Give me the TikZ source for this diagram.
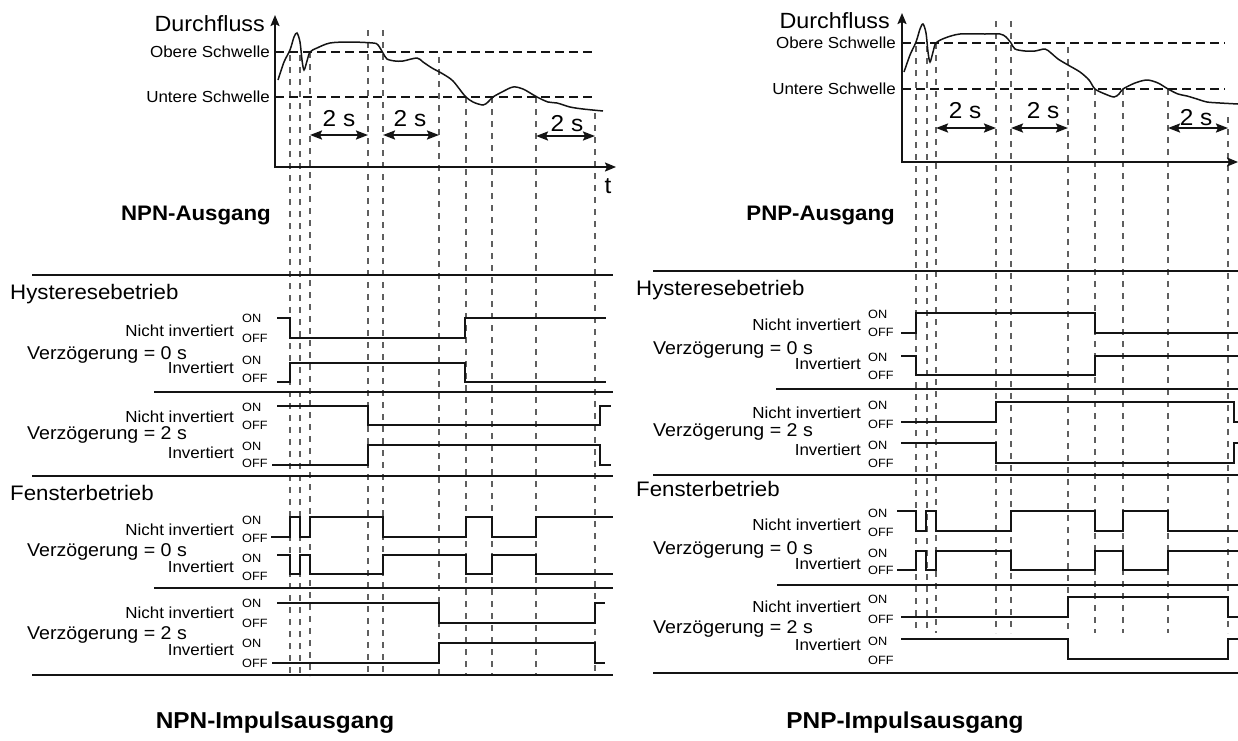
\documentclass[tikz,border=0pt]{standalone}
\usepackage{fontspec}
\setmainfont{Liberation Sans}[FakeStretch=1.06]
\usepackage{tikz}
\usetikzlibrary{arrows.meta}
\definecolor{ink}{RGB}{20, 20, 20}
\definecolor{midgray}{RGB}{95, 95, 95}

\tikzset{
  sig/.style={ink, line width=2pt},
  sepline/.style={ink, line width=2pt},
  thr/.style={ink, line width=1.5pt, dash pattern=on 9pt off 5pt},
  vline/.style={midgray, line width=1.2pt, dash pattern=on 6pt off 6pt},
  flowaxis/.style={ink, line width=1.8pt, -{Stealth[length=11pt, width=9pt, inset=2pt]}},
  flowcurve/.style={ink, line width=1.5pt},
  delayspan/.style={ink, line width=2pt,
    {Stealth[length=12pt, width=9pt, inset=2pt]}-{Stealth[length=12pt, width=9pt, inset=2pt]}},
  lbl/.style={inner sep=0pt, text depth=0pt},
  lblhead/.style={lbl, text height=15pt, font=\fontsize{21}{21}\selectfont},
  lbldelay/.style={lbl, text height=13.2pt, font=\fontsize{18.5}{18.5}\selectfont},
  lblrow/.style={lbl, text height=11.5pt, font=\fontsize{16}{16}\selectfont},
  lblstate/.style={lbl, text height=8.6pt, font=\fontsize{12}{12}\selectfont},
  lblflow/.style={lbl, text height=15.8pt, font=\fontsize{22}{22}\selectfont},
  lblthr/.style={lbl, text height=11.5pt, font=\fontsize{16}{16}\selectfont},
  lblspan/.style={lbl, text height=16.5pt, font=\fontsize{23}{23}\selectfont},
  lbltitle/.style={lbl, text height=15pt, font=\bfseries\fontsize{21}{21}\selectfont},
  lblcaption/.style={lbl, text height=16.5pt, font=\bfseries\fontsize{23}{23}\selectfont},
}

\begin{document}
\begin{tikzpicture}[x=1pt, y=-1pt]
  \useasboundingbox (0, 0) rectangle (1238, 740);
  \fill[white] (0, 0) rectangle (1238, 740);

  % ---------------- NPN ----------------
  \foreach \x/\y in {290/55, 300/55, 310/52, 368/30, 383/30, 439/57,
                     466/97, 492/97, 536/97, 595/113} {
    \draw[vline] (\x, \y) -- (\x, 676);
  }

  \draw[thr] (275, 52) -- (592, 52);
  \draw[thr] (275, 97) -- (592, 97);

  \draw[flowcurve] plot[smooth, tension=0.5] coordinates {
    (278,80) (284,62) (290,50) (294,37) (297,33) (300,42) (302,60) (304,70)
    (307,61) (310,52) (317,48) (330,43) (350,42) (373,43) (378,45) (383,53)
    (387,59) (395,61) (403,61) (417,58) (423,62) (432,68) (443,74) (453,81)
    (465,96) (473,102) (483,105) (488,102) (493,97) (502,92) (513,87) (523,89)
    (537,97) (548,102) (557,103) (570,107) (583,109) (603,111)};

  \draw[flowaxis] (275, 168) -- (275, 15);
  \draw[flowaxis] (274, 167) -- (616, 167);

  \node[lblflow, anchor=east] (npnFlow) at (265, 24) {Durchfluss};
  \node[lblthr, anchor=east] (npnUpper) at (270, 52) {Obere Schwelle};
  \node[lblthr, anchor=east] (npnLower) at (270, 97) {Untere Schwelle};
  \node[lblspan] (npnTime) at (608, 185) {t};

  \draw[delayspan] (310, 135) -- (368, 135);
  \draw[delayspan] (383, 135) -- (439, 135);
  \draw[delayspan] (536, 136) -- (595, 136);
  \node[lblspan] (npnSpanA) at (339, 118) {2 s};
  \node[lblspan] (npnSpanB) at (410, 118) {2 s};
  \node[lblspan] (npnSpanC) at (567, 123) {2 s};

  \node[lbltitle, anchor=east] (npnOut) at (271, 213) {NPN-Ausgang};

  \draw[sepline] (32, 275) -- (613, 275);
  \draw[sepline] (154, 392) -- (613, 392);
  \draw[sepline] (32, 476) -- (613, 476);
  \draw[sepline] (154, 588) -- (613, 588);
  \draw[sepline] (32, 675) -- (613, 675);

  \node[lblhead, anchor=west] (npnHyst) at (10, 292) {Hysteresebetrieb};
  \node[lblhead, anchor=west] (npnWin) at (10, 493) {Fensterbetrieb};
  \node[lbldelay, anchor=west] (npnDelA) at (27, 353) {Verzögerung = 0 s};
  \node[lbldelay, anchor=west] (npnDelB) at (27, 433) {Verzögerung = 2 s};
  \node[lbldelay, anchor=west] (npnDelC) at (27, 550) {Verzögerung = 0 s};
  \node[lbldelay, anchor=west] (npnDelD) at (27, 633) {Verzögerung = 2 s};

  \foreach \txt/\y [count=\i] in {Nicht invertiert/331, Invertiert/368,
      Nicht invertiert/417, Invertiert/453, Nicht invertiert/530,
      Invertiert/567, Nicht invertiert/613, Invertiert/650} {
    \node[lblrow, anchor=east] (npnRow\i) at (234, \y) {\txt};
  }
  \foreach \on/\off [count=\i] in {318/338, 360/378, 407/425, 446/463,
                                   520/538, 558/576, 603/623, 643/663} {
    \node[lblstate, anchor=west] (npnOn\i) at (242, \on) {ON};
    \node[lblstate, anchor=west] (npnOff\i) at (242, \off) {OFF};
  }

  \draw[sig] (277, 318)
    \foreach \x/\y in {290/318, 290/338, 465/338, 465/318, 606/318} {
      -- (\x, \y)
  };
  \draw[sig] (277, 382)
    \foreach \x/\y in {290/382, 290/363, 465/363, 465/382, 606/382} {
      -- (\x, \y)
  };
  \draw[sig] (277, 406)
    \foreach \x/\y in {368/406, 368/425, 600/425, 600/406, 611/406} {
      -- (\x, \y)
  };
  \draw[sig] (272, 465)
    \foreach \x/\y in {368/465, 368/445, 600/445, 600/465, 611/465} {
      -- (\x, \y)
  };
  \draw[sig] (271, 537)
    \foreach \x/\y in {290/537, 290/517, 300/517, 300/537, 310/537, 310/517,
                       383/517, 383/537, 466/537, 466/517, 492/517, 492/537,
                       536/537, 536/517, 613/517} {
      -- (\x, \y)
  };
  \draw[sig] (277, 555)
    \foreach \x/\y in {290/555, 290/574, 300/574, 300/555, 310/555, 310/574,
                       383/574, 383/555, 466/555, 466/574, 492/574, 492/555,
                       536/555, 536/574, 613/574} {
      -- (\x, \y)
  };
  \draw[sig] (277, 603)
    \foreach \x/\y in {439/603, 439/623, 595/623, 595/603, 605/603} {
      -- (\x, \y)
  };
  \draw[sig] (272, 663)
    \foreach \x/\y in {439/663, 439/643, 595/643, 595/663, 605/663} {
      -- (\x, \y)
  };

  \node[lblcaption] (npnCaption) at (275, 720) {NPN-Impulsausgang};

  % ---------------- PNP ----------------
  \foreach \x/\y in {916/46, 927/46, 936/43, 996/21, 1011/21, 1068/47,
                     1095/89, 1123/89, 1168/89, 1228/117} {
    \draw[vline] (\x, \y) -- (\x, 633);
  }

  \draw[thr] (902, 43) -- (1225, 43);
  \draw[thr] (902, 89) -- (1225, 89);

  \draw[flowcurve] plot[smooth, tension=0.5] coordinates {
    (904,72) (910,55) (916,42) (920,29) (923,24) (926,33) (928,52) (930,62)
    (933,52) (936,43) (945,38) (960,34) (985,34) (1000,34) (1006,37) (1011,43)
    (1015,49) (1025,51) (1035,51) (1045,49) (1051,53) (1058,59) (1068,65)
    (1080,72) (1089,80) (1095,89) (1105,94) (1114,97) (1119,94) (1123,89)
    (1135,83) (1147,80) (1158,83) (1168,89) (1178,94) (1187,96) (1197,99)
    (1207,102) (1220,103) (1238,104)};

  \draw[flowaxis] (902, 163) -- (902, 13);
  \draw[flowaxis] (901, 162) -- (1238, 162);

  \node[lblflow, anchor=east] (pnpFlow) at (890, 21) {Durchfluss};
  \node[lblthr, anchor=east] (pnpUpper) at (896, 43) {Obere Schwelle};
  \node[lblthr, anchor=east] (pnpLower) at (896, 89) {Untere Schwelle};

  \draw[delayspan] (936, 128) -- (996, 128);
  \draw[delayspan] (1011, 128) -- (1068, 128);
  \draw[delayspan] (1168, 128) -- (1228, 128);
  \node[lblspan] (pnpSpanA) at (965, 110) {2 s};
  \node[lblspan] (pnpSpanB) at (1043, 110) {2 s};
  \node[lblspan] (pnpSpanC) at (1196, 117) {2 s};

  \node[lbltitle, anchor=east] (pnpOut) at (895, 213) {PNP-Ausgang};

  \draw[sepline] (653, 271) -- (1238, 271);
  \draw[sepline] (776, 389) -- (1238, 389);
  \draw[sepline] (653, 475) -- (1238, 475);
  \draw[sepline] (777, 585) -- (1238, 585);
  \draw[sepline] (653, 673) -- (1238, 673);

  \node[lblhead, anchor=west] (pnpHyst) at (636, 288) {Hysteresebetrieb};
  \node[lblhead, anchor=west] (pnpWin) at (636, 489) {Fensterbetrieb};
  \node[lbldelay, anchor=west] (pnpDelA) at (653, 348) {Verzögerung = 0 s};
  \node[lbldelay, anchor=west] (pnpDelB) at (653, 430) {Verzögerung = 2 s};
  \node[lbldelay, anchor=west] (pnpDelC) at (653, 548) {Verzögerung = 0 s};
  \node[lbldelay, anchor=west] (pnpDelD) at (653, 627) {Verzögerung = 2 s};

  \foreach \txt/\y [count=\i] in {Nicht invertiert/325, Invertiert/364,
      Nicht invertiert/413, Invertiert/450, Nicht invertiert/525,
      Invertiert/564, Nicht invertiert/607, Invertiert/645} {
    \node[lblrow, anchor=east] (pnpRow\i) at (861, \y) {\txt};
  }
  \foreach \on/\off [count=\i] in {314/332, 357/375, 405/424, 445/463,
                                   513/532, 553/570, 599/619, 641/660} {
    \node[lblstate, anchor=west] (pnpOn\i) at (868, \on) {ON};
    \node[lblstate, anchor=west] (pnpOff\i) at (868, \off) {OFF};
  }

  \draw[sig] (901, 333)
    \foreach \x/\y in {916/333, 916/313, 1095/313, 1095/333, 1238/333} {
      -- (\x, \y)
  };
  \draw[sig] (901, 356)
    \foreach \x/\y in {916/356, 916/375, 1095/375, 1095/356, 1238/356} {
      -- (\x, \y)
  };
  \draw[sig] (901, 422)
    \foreach \x/\y in {996/422, 996/402, 1234/402, 1234/422, 1238/422} {
      -- (\x, \y)
  };
  \draw[sig] (901, 443)
    \foreach \x/\y in {996/443, 996/463, 1234/463, 1234/443, 1238/443} {
      -- (\x, \y)
  };
  \draw[sig] (897, 511)
    \foreach \x/\y in {916/511, 916/531, 926/531, 926/511, 936/511, 936/531,
                       1011/531, 1011/511, 1095/511, 1095/531, 1123/531,
                       1123/511, 1168/511, 1168/531, 1238/531} {
      -- (\x, \y)
  };
  \draw[sig] (897, 570)
    \foreach \x/\y in {916/570, 916/551, 926/551, 926/570, 936/570, 936/551,
                       1011/551, 1011/570, 1095/570, 1095/551, 1123/551,
                       1123/570, 1168/570, 1168/551, 1238/551} {
      -- (\x, \y)
  };
  \draw[sig] (901, 617)
    \foreach \x/\y in {1068/617, 1068/597, 1228/597, 1228/617, 1238/617} {
      -- (\x, \y)
  };
  \draw[sig] (901, 639)
    \foreach \x/\y in {1068/639, 1068/659, 1228/659, 1228/639, 1238/639} {
      -- (\x, \y)
  };

  \node[lblcaption] (pnpCaption) at (905, 720) {PNP-Impulsausgang};

\end{tikzpicture}
\end{document}
